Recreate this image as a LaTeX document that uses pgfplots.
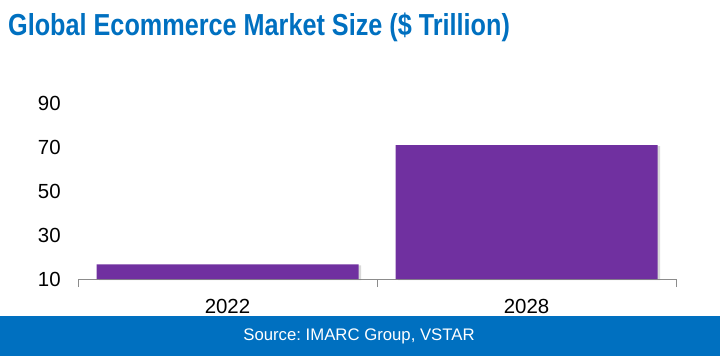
\documentclass[border=0pt]{standalone}
\usepackage{fontspec}
\setmainfont{Liberation Sans}
\newfontfamily\titlefont[FakeStretch=0.83]{Liberation Sans}
\usepackage{pgfplots}
\pgfplotsset{compat=1.18}
\usetikzlibrary{shadows}
\definecolor{barpurple}{HTML}{7030A0}
\definecolor{bandblue}{HTML}{0070C0}
\definecolor{titleblue}{HTML}{0070C0}
\frenchspacing
\begin{document}
\begin{tikzpicture}[x=1bp,y=1bp]
\useasboundingbox (0,0) rectangle (720,359);
\fill[bandblue] (0,3) rectangle (720,43);
\node[text=white, font=\fontsize{16.8}{16.8}\selectfont, anchor=center] at (359,23) {Source: IMARC Group, VSTAR};
\node[text=titleblue, font=\titlefont\bfseries\fontsize{30.5}{30.5}\selectfont, anchor=base west, inner sep=0pt] at (8,324) {Global Ecommerce Market Size (\$ Trillion)};
\begin{axis}[
  at={(78bp,80bp)}, anchor=south west,
  scale only axis, width=598bp, height=176bp,
  xmin=-0.5, xmax=1.5, ymin=10, ymax=90,
  axis x line=bottom, axis y line=left,
  axis line style={-, draw=black!45, line width=0.9pt},
  y axis line style={draw=none},
  ytick={10,30,50,70,90},
  ytick style={draw=none},
  xtick={0,1}, xticklabels={2022,2028},
  major x tick style={draw=none},
  minor xtick={-0.5,0.5,1.5},
  minor x tick style={draw=black!45, line width=0.9pt},
  minor tick length=8bp,
  xtick align=outside,
  /pgf/number format/assume math mode=true,
  tick label style={font=\fontsize{20.5}{20.5}\selectfont, inner sep=0pt},
  yticklabel style={xshift=-15bp},
  xticklabel style={yshift=-16bp},
  ybar, bar width=262bp,
  clip=false,
]
\addplot[fill=barpurple, draw=none, bar shift=0pt,
  drop shadow={shadow xshift=2.5bp, shadow yshift=-1bp, opacity=0.3}]
  coordinates {(0,16.6) (1,70.9)};
\end{axis}
\end{tikzpicture}
\end{document}
